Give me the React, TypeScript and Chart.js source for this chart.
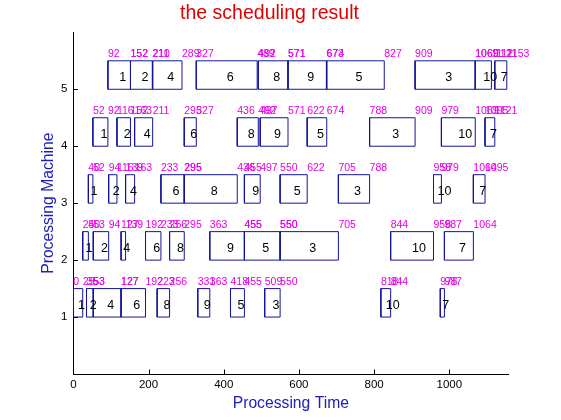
import { useEffect, useRef } from 'react';
import { Chart, registerables } from 'chart.js';

Chart.register(...registerables);

// job sequence on every machine
const jobOrder = [1, 2, 4, 6, 8, 9, 5, 3, 10, 7];

// start / end times per machine, in jobOrder
const startM1 = [0, 35, 53, 127, 223, 331, 418, 509, 818, 976];
const endM1 = [25, 53, 127, 192, 256, 363, 455, 550, 844, 987];
const startM2 = [25, 53, 127, 192, 256, 363, 455, 550, 844, 987];
const endM2 = [40, 94, 139, 233, 295, 455, 550, 705, 958, 1064];
const startM3 = [40, 94, 139, 233, 295, 455, 550, 705, 958, 1064];
const endM3 = [52, 116, 163, 295, 436, 497, 622, 788, 979, 1095];
const startM4 = [52, 116, 163, 295, 436, 497, 622, 788, 979, 1095];
const endM4 = [92, 152, 211, 327, 492, 571, 674, 909, 1069, 1121];
const startM5 = [92, 152, 211, 327, 492, 571, 674, 909, 1069, 1121];
const endM5 = [152, 210, 289, 489, 571, 673, 827, 1069, 1112, 1153];

const xTicks = [0, 200, 400, 600, 800, 1000];
const yTicks = [1, 2, 3, 4, 5];

const rows = [
  { m: 1, start: startM1, end: endM1 },
  { m: 2, start: startM2, end: endM2 },
  { m: 3, start: startM3, end: endM3 },
  { m: 4, start: startM4, end: endM4 },
  { m: 5, start: startM5, end: endM5 },
];

const FONT = '"Liberation Sans", Arial, sans-serif';
const BOX = '#14149a';
const MAGENTA = '#e600e6';
const LABEL_BLUE = '#2020b8';

const ganttLabels = {
  id: 'ganttLabels',
  afterDatasetsDraw(chart: any) {
    const { ctx, scales } = chart;
    const x = scales.x;
    const y = scales.y;
    ctx.save();
    ctx.textAlign = 'left';
    ctx.textBaseline = 'middle';
    rows.forEach((row) => {
      row.start.forEach((s, i) => {
        const e = row.end[i];
        ctx.fillStyle = MAGENTA;
        ctx.font = `10.5px ${FONT}`;
        const ly = y.getPixelForValue(row.m + 0.61);
        ctx.fillText(String(s), x.getPixelForValue(s), ly);
        ctx.fillText(String(e), x.getPixelForValue(e), ly);
        ctx.fillStyle = '#000';
        ctx.font = `12.5px ${FONT}`;
        ctx.fillText(String(jobOrder[i]), x.getPixelForValue((s + e) / 2), y.getPixelForValue(row.m + 0.21));
      });
    });
    ctx.restore();
  },
  afterDraw(chart: any) {
    const { ctx, scales, chartArea } = chart;
    ctx.save();
    ctx.strokeStyle = '#000';
    ctx.lineWidth = 1;
    ctx.beginPath();
    xTicks.forEach((v) => {
      const px = Math.round(scales.x.getPixelForValue(v)) + 0.5;
      ctx.moveTo(px, chartArea.bottom);
      ctx.lineTo(px, chartArea.bottom - 4.5);
    });
    yTicks.forEach((v) => {
      const py = Math.round(scales.y.getPixelForValue(v)) + 0.5;
      ctx.moveTo(chartArea.left, py);
      ctx.lineTo(chartArea.left + 4.5, py);
    });
    ctx.stroke();
    // title
    ctx.fillStyle = '#e00000';
    ctx.font = `19.5px ${FONT}`;
    ctx.textAlign = 'center';
    ctx.textBaseline = 'alphabetic';
    ctx.fillText('the scheduling result', 269.5, 19);
    ctx.restore();
  },
};

const App = () => {
  const canvasRef = useRef<HTMLCanvasElement>(null);

  useEffect(() => {
    document.body.style.margin = '0';
    const datasets: any[] = [];
    rows.forEach((row) => {
      row.start.forEach((s, i) => {
        const e = row.end[i];
        datasets.push({
          data: [
            { x: s, y: row.m },
            { x: e, y: row.m },
            { x: e, y: row.m + 0.5 },
            { x: s, y: row.m + 0.5 },
            { x: s, y: row.m },
          ],
          showLine: true,
          borderColor: BOX,
          borderWidth: 1,
          pointRadius: 0,
          fill: false,
          tension: 0,
        });
      });
    });

    const chart = new Chart(canvasRef.current!, {
      type: 'scatter',
      data: { datasets },
      options: {
        animation: false,
        responsive: false,
        layout: { padding: { left: 0, right: 52.67, top: 32.33, bottom: 0 } },
        plugins: { legend: { display: false }, tooltip: { enabled: false }, title: { display: false } },
        scales: {
          x: {
            type: 'linear',
            min: 0,
            max: 1157,
            grid: { display: false, drawTicks: false },
            border: { display: true, color: '#000', width: 1 },
            afterBuildTicks: (scale: any) => {
              scale.ticks = xTicks.map((v) => ({ value: v }));
            },
            afterFit: (scale: any) => {
              scale.height = 46;
            },
            ticks: {
              color: '#000',
              padding: 4,
              font: { family: FONT, size: 11.5 },
              callback: (v: any) => String(v),
            },
            title: {
              display: true,
              text: 'Processing Time',
              color: LABEL_BLUE,
              font: { family: FONT, size: 15.7 },
              padding: { top: 0, bottom: 6.6 },
            },
          },
          y: {
            type: 'linear',
            min: 0,
            max: 6,
            grid: { display: false, drawTicks: false },
            border: { display: true, color: '#000', width: 1 },
            afterBuildTicks: (scale: any) => {
              scale.ticks = yTicks.map((v) => ({ value: v }));
            },
            afterFit: (scale: any) => {
              scale.width = 73.33;
            },
            ticks: {
              color: '#000',
              padding: 6,
              font: { family: FONT, size: 11.5 },
              callback: (v: any) => String(v),
            },
            title: {
              display: true,
              text: 'Processing Machine',
              color: LABEL_BLUE,
              font: { family: FONT, size: 15.7 },
              padding: { top: 39, bottom: 0 },
            },
          },
        },
      },
      plugins: [ganttLabels],
    });

    return () => {
      chart.destroy();
    };
  }, []);

  return (
    <div style={{ width: 561, height: 420 }}>
      <canvas ref={canvasRef} width={561} height={420}></canvas>
    </div>
  );
};

export default App;
